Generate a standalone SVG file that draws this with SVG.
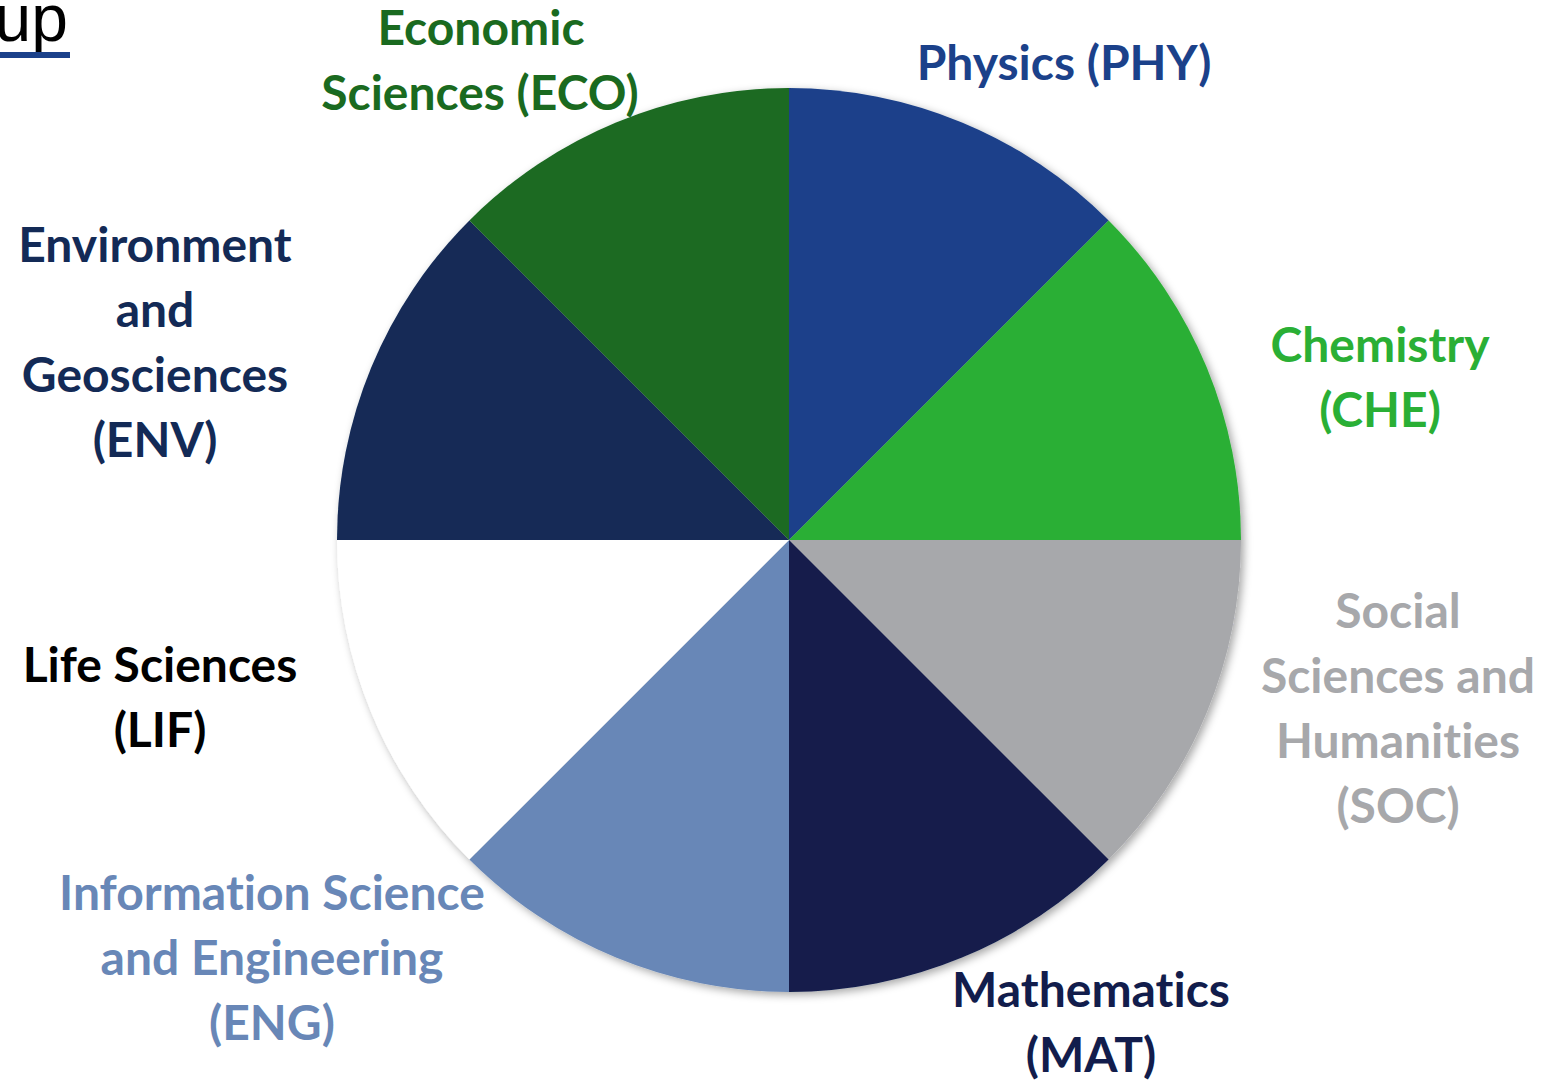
<svg xmlns="http://www.w3.org/2000/svg" width="1549" height="1081" viewBox="0 0 1549 1081">
<style>
text{font-family:Lato,"Open Sans","Liberation Sans",sans-serif;font-weight:bold;font-size:48px;text-anchor:middle;font-variant-ligatures:none}
.phy{fill:#1B418A}.che{fill:#2AAF35}.soc{fill:#A7A8AB}.mat{fill:#121D4C}
.eng{fill:#6887B7}.lif{fill:#FFFFFF}.env{fill:#132A56}.eco{fill:#1A6A20}
</style>
<defs>
<filter id="sh" x="-10%" y="-10%" width="120%" height="120%">
<feDropShadow dx="3" dy="3" stdDeviation="4" flood-color="#000" flood-opacity="0.35"/>
</filter>
</defs>
<rect width="1549" height="1081" fill="#FFFFFF"/>
<g id="title">
<text x="68" y="41" style="font-family:'Liberation Sans',sans-serif;font-weight:normal;font-size:66px;text-anchor:end;fill:#000">up</text>
<rect x="0" y="52" width="70" height="6" fill="#1B418A"/>
</g>
<g id="pie" filter="url(#sh)">
<g id="slice-phy"><path class="phy" d="M789,540 L789,88 A452,452 0 0 1 1108.6,220.4 Z"/></g>
<g id="slice-che"><path class="che" d="M789,540 L1108.6,220.4 A452,452 0 0 1 1241,540 Z"/></g>
<g id="slice-soc"><path class="soc" d="M789,540 L1241,540 A452,452 0 0 1 1108.6,859.6 Z"/></g>
<g id="slice-mat"><path class="mat" d="M789,540 L1108.6,859.6 A452,452 0 0 1 789,992 Z"/></g>
<g id="slice-eng"><path class="eng" d="M789,540 L789,992 A452,452 0 0 1 469.4,859.6 Z"/></g>
<g id="slice-lif"><path class="lif" d="M789,540 L469.4,859.6 A452,452 0 0 1 337,540 Z"/></g>
<g id="slice-env"><path class="env" d="M789,540 L337,540 A452,452 0 0 1 469.4,220.4 Z"/></g>
<g id="slice-eco"><path class="eco" d="M789,540 L469.4,220.4 A452,452 0 0 1 789,88 Z"/></g>
</g>
<g id="label-eco"><text class="eco" x="481" y="45">Economic</text><text class="eco" x="480" y="110">Sciences (ECO)</text></g>
<g id="label-phy"><text class="phy" x="1064" y="80">Physics (PHY)</text></g>
<g id="label-che"><text class="che" x="1380" y="362">Chemistry</text><text class="che" x="1380" y="427">(CHE)</text></g>
<g id="label-soc"><text class="soc" x="1398" y="628">Social</text><text class="soc" x="1398" y="693">Sciences and</text><text class="soc" x="1398" y="758">Humanities</text><text class="soc" x="1398" y="823">(SOC)</text></g>
<g id="label-mat"><text class="mat" x="1091" y="1007">Mathematics</text><text class="mat" x="1091" y="1072">(MAT)</text></g>
<g id="label-eng"><text class="eng" x="272" y="910">Information Science</text><text class="eng" x="272" y="975">and Engineering</text><text class="eng" x="272" y="1040">(ENG)</text></g>
<g id="label-lif"><text x="160" y="682" style="fill:#000">Life Sciences</text><text x="160" y="747" style="fill:#000">(LIF)</text></g>
<g id="label-env"><text class="env" x="155" y="262">Environment</text><text class="env" x="155" y="327">and</text><text class="env" x="155" y="392">Geosciences</text><text class="env" x="155" y="457">(ENV)</text></g>
</svg>
